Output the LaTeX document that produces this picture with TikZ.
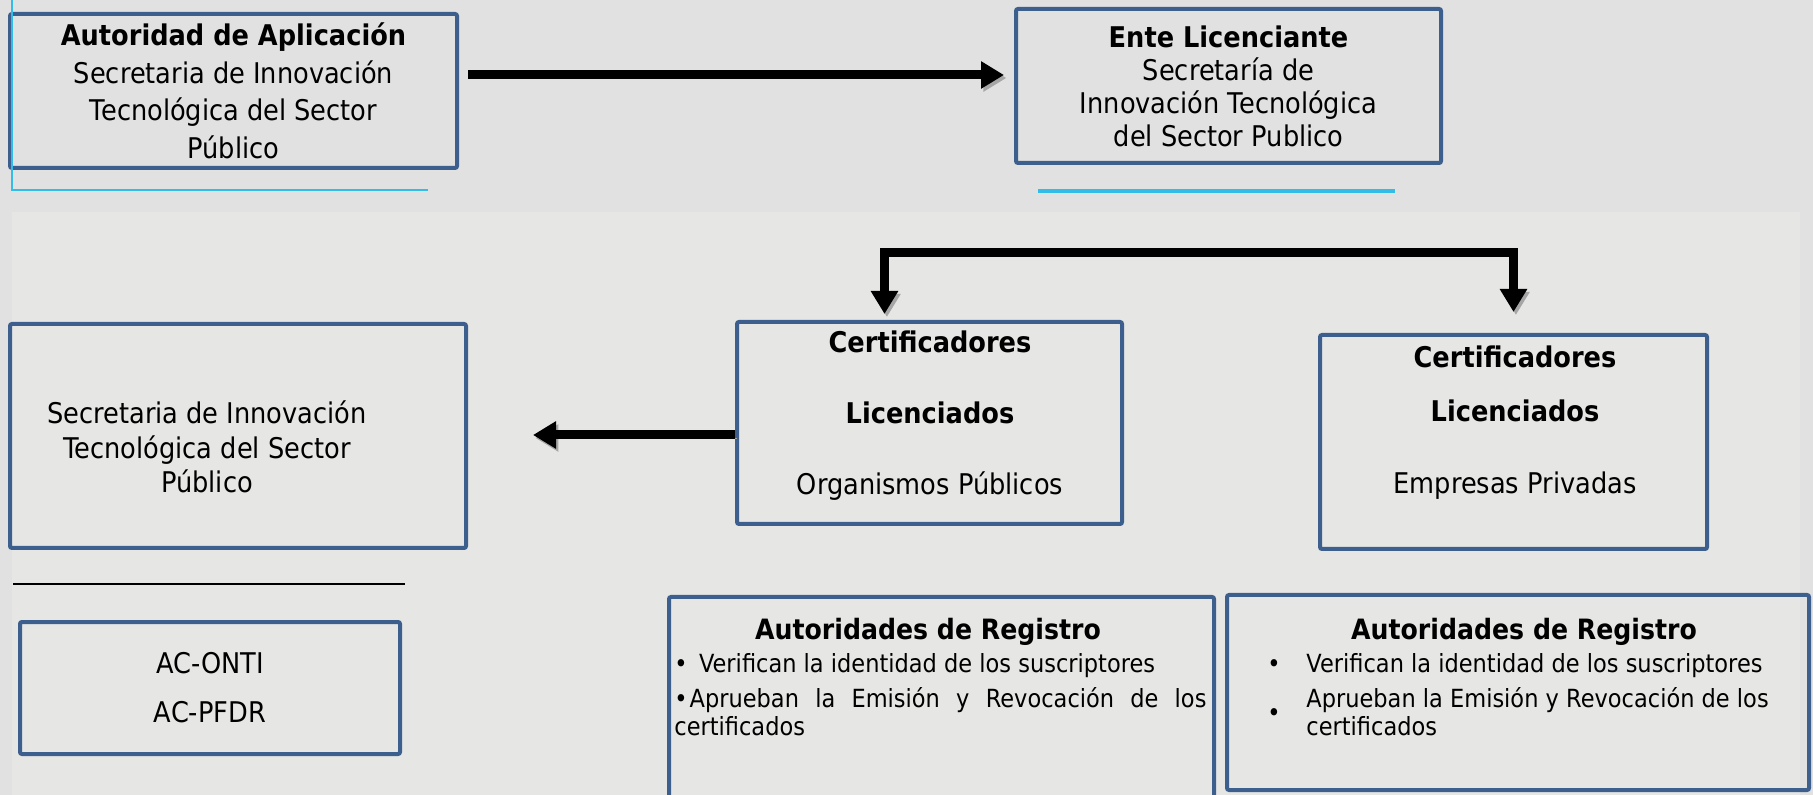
\documentclass[tikz,border=0pt]{standalone}
\usepackage{fontspec}
\setmainfont{DejaVu Sans}[FakeStretch=0.9]
\usepackage{array}
\usetikzlibrary{arrows.meta}

\definecolor{fondo}{HTML}{E0E1E0}
\definecolor{panel}{HTML}{E6E6E4}
\definecolor{azulcaja}{HTML}{3C5F8E}
\definecolor{cian}{HTML}{33BCE8}

\tikzset{punta/.tip={Triangle[length=11.5pt,width=13pt]}}

\begin{document}
\begin{tikzpicture}[x=0.5pt,y=-0.5pt,
	caja/.style={draw=azulcaja,line width=2pt,rounded corners=1pt,inner sep=0pt},
	grande/.style={font=\fontsize{14.25}{18.8}\selectfont,align=center},
	lista/.style={font=\fontsize{12.5}{14}\selectfont,inner sep=0pt,anchor=north west},
	flecha/.style={line width=4.5pt,preaction={draw=black!35,transform canvas={shift={(1.2pt,-1.5pt)}}}}]
	\useasboundingbox (0,0) rectangle (1813,795);
	\clip (0,0) rectangle (1813,795);
	% fondo
	\fill[fondo] (0,0) rectangle (1813,795);
	\fill[panel] (12,212) rectangle (1800,795);
	
	% fila de arriba
	\node[caja,grande,minimum width=223.5pt,minimum height=77pt] (autoridad) at (233.5,91)
		{\textbf{Autoridad de Aplicación}\\Secretaria de Innovación\\Tecnológica del Sector\\Público};
	\node[caja,font=\fontsize{14.25}{16.5}\selectfont,align=center,minimum width=212.5pt,minimum height=77pt] (ente) at (1228.5,86)
		{\textbf{Ente Licenciante}\\Secretaría de\\Innovación Tecnológica\\del Sector Publico};
	\draw[cian,line width=1pt] (12,0) |- (428,190);
	\draw[cian,line width=2pt] (1038,191) -- (1395,191);
	
	% certificadores
	\node[caja,minimum width=228pt,minimum height=112pt] (secretaria) at (238,436) {};
	\node[grande,font=\fontsize{14.25}{17.25}\selectfont] (textosec) at (207,447)
		{Secretaria de Innovación\\Tecnológica del Sector\\Público};
	\node[caja,minimum width=192.5pt,minimum height=101pt] (certpub) at (929.5,423) {};
	\node[grande,font=\fontsize{14.25}{35.5}\selectfont] (textopub) at (930,416)
		{\textbf{Certificadores}\\\textbf{Licenciados}\\Organismos Públicos};
	\node[caja,minimum width=193.5pt,minimum height=107pt] (certpriv) at (1513.5,442) {};
	\node[grande,font=\fontsize{14.25}{27}\selectfont] (textopriv) at (1515,423)
		{\textbf{Certificadores}\\\textbf{Licenciados}\\[9pt]Empresas Privadas};
	\draw[line width=1pt] (13,584) -- (405,584);
	
	% abajo
	\node[caja,grande,font=\fontsize{14.25}{24.5}\selectfont,minimum width=190pt,minimum height=66pt] (acs) at (210,688)
		{AC-ONTI\\AC-PFDR};
	\node[caja,minimum width=272.5pt,minimum height=106.5pt] (regpub) at (941.5,703.5) {};
	\node[font=\fontsize{14}{16}\selectfont\bfseries] (titpub) at (928,632) {Autoridades de Registro};
	\node[lista,text width=266pt,align=justify] (listapub) at (674,653)
		{\hyphenpenalty=10000\noindent•~\,Verifican la identidad de los suscriptores\par\vspace{3.5pt}%
		\noindent•\hspace{1pt}Aprueban la Emisión y Revocación de los \mbox{certificados}};
	\node[caja,minimum width=291pt,minimum height=97.5pt] (regpriv) at (1518,692.5) {};
	\node[font=\fontsize{14}{16}\selectfont\bfseries] (titpriv) at (1524,632) {Autoridades de Registro};
	\node[lista] (listapriv) at (1267,652)
		{\begin{tabular}{@{}m{19.5pt}@{}m{240pt}@{}}
		• & Verifican la identidad de los suscriptores\\[3.5pt]
		• & Aprueban la Emisión y Revocación de los\newline certificados
		\end{tabular}};
	
	% flechas
	\draw[flecha,-punta,shorten >=5pt] ([shift={(9,-16)}]autoridad.east) coordinate (s1) -- (s1 -| ente.west);
	\coordinate (cima) at (1200,253);
	\draw[flecha,punta-punta,shorten <=3pt,shorten >=10.5pt] ([xshift=-22.5pt]certpub.north)
		-- ([xshift=-22.5pt]certpub.north |- cima) -| (certpriv.north);
	\draw[flecha,-punta,shorten >=32.5pt] ([yshift=-6pt]certpub.west) -- ([yshift=-6pt]certpub.west -| secretaria.east);
\end{tikzpicture}
\end{document}
